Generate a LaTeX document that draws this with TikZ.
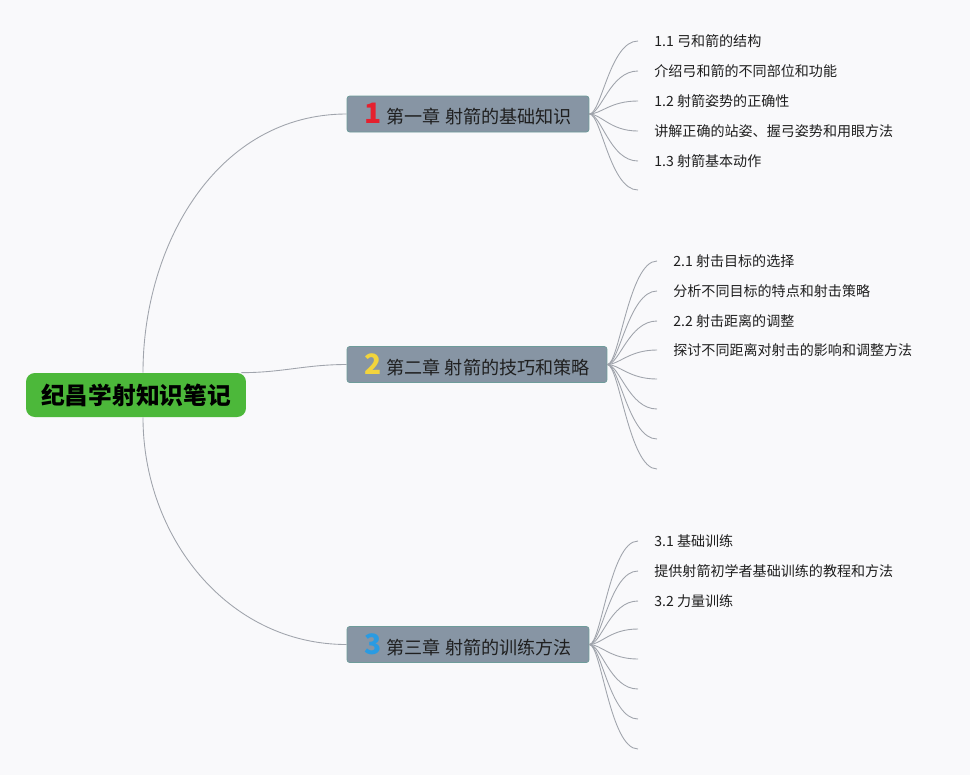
\documentclass[tikz,border=0pt]{standalone}
\usepackage{fontspec}
\setmainfont{Noto Sans CJK SC}
\usetikzlibrary{positioning}
\definecolor{bgpaper}{HTML}{F9F9FB}
\definecolor{rootgreen}{HTML}{4CB83A}
\definecolor{chapfill}{HTML}{8795A4}
\definecolor{chapline}{HTML}{6E9C9A}
\definecolor{branchgray}{HTML}{A0A4AC}
\definecolor{numred}{HTML}{E5202E}
\definecolor{numyellow}{HTML}{F2D43C}
\definecolor{numblue}{HTML}{2A9BE2}
\newcommand{\chapnum}[2]{{\color{#1}\fontsize{16}{16}\selectfont\bfseries #2}\hspace{3pt}}

\begin{document}
\begin{tikzpicture}[x=0.02cm, y=-0.02cm,
    root/.style={rectangle, fill=rootgreen, rounded corners=5pt, minimum width=4.4cm, minimum height=0.88cm, font=\fontsize{13.5}{16}\selectfont\bfseries},
    chapter/.style={rectangle, draw=chapline, fill=chapfill, rounded corners=1.5pt, minimum height=0.72cm, font=\fontsize{10.3}{12}\selectfont, text=black!88},
    leaf/.style={anchor=west, font=\fontsize{8}{10}\selectfont, text=black!88, inner xsep=0.32cm, inner ysep=0pt},
    branch/.style={draw=branchgray, line width=0.5pt}]
\fill[bgpaper] (0,0) rectangle (970,775);

\node[root] (root) at (136,395) {纪昌学射知识笔记};

\node[chapter, minimum width=4.84cm] (c1) at (468,114) {\chapnum{numred}{1}第一章 射箭的基础知识};
\node[chapter, minimum width=5.2cm] (c2) at (477,364.5) {\chapnum{numyellow}{2}第二章 射箭的技巧和策略};
\node[chapter, minimum width=4.84cm] (c3) at (468,644.5) {\chapnum{numblue}{3}第三章 射箭的训练方法};

% main branches
\draw[branch] ([xshift=0.14cm]root.north) to[out=90, in=180] (c1.west);
\draw[branch] ([xshift=-0.1cm]root.north east) to[out=0, in=180] (c2.west);
\draw[branch] ([xshift=0.14cm]root.south) to[out=-90, in=180] (c3.west);

% chapter 1
\node[leaf] (l11) at (638,41) {1.1 弓和箭的结构};
\node[leaf] (l12) at (638,71) {介绍弓和箭的不同部位和功能};
\node[leaf] (l13) at (638,101) {1.2 射箭姿势的正确性};
\node[leaf] (l14) at (638,131) {讲解正确的站姿、握弓姿势和用眼方法};
\node[leaf] (l15) at (638,161) {1.3 射箭基本动作};
\coordinate (l16) at (638,190);
\foreach \n in {l11,l12,l13,l14,l15}
  \draw[branch] (c1.east) .. controls +(12,0) and +(-28,0) .. (\n.west);
\draw[branch] (c1.east) .. controls +(12,0) and +(-28,0) .. (l16);

% chapter 2
\node[leaf] (l21) at (657,261) {2.1 射击目标的选择};
\node[leaf] (l22) at (657,291) {分析不同目标的特点和射击策略};
\node[leaf] (l23) at (657,321) {2.2 射击距离的调整};
\node[leaf] (l24) at (657,350) {探讨不同距离对射击的影响和调整方法};
\coordinate (l25) at (657,379);
\coordinate (l26) at (657,409);
\coordinate (l27) at (657,439);
\coordinate (l28) at (657,469);
\foreach \n in {l21,l22,l23,l24}
  \draw[branch] (c2.east) .. controls +(12,0) and +(-28,0) .. (\n.west);
\foreach \n in {l25,l26,l27,l28}
  \draw[branch] (c2.east) .. controls +(12,0) and +(-28,0) .. (\n);

% chapter 3
\node[leaf] (l31) at (638,541) {3.1 基础训练};
\node[leaf] (l32) at (638,571) {提供射箭初学者基础训练的教程和方法};
\node[leaf] (l33) at (638,601) {3.2 力量训练};
\coordinate (l34) at (638,629);
\coordinate (l35) at (638,659);
\coordinate (l36) at (638,689);
\coordinate (l37) at (638,719);
\coordinate (l38) at (638,749);
\foreach \n in {l31,l32,l33}
  \draw[branch] (c3.east) .. controls +(12,0) and +(-28,0) .. (\n.west);
\foreach \n in {l34,l35,l36,l37,l38}
  \draw[branch] (c3.east) .. controls +(12,0) and +(-28,0) .. (\n);
\end{tikzpicture}
\end{document}
